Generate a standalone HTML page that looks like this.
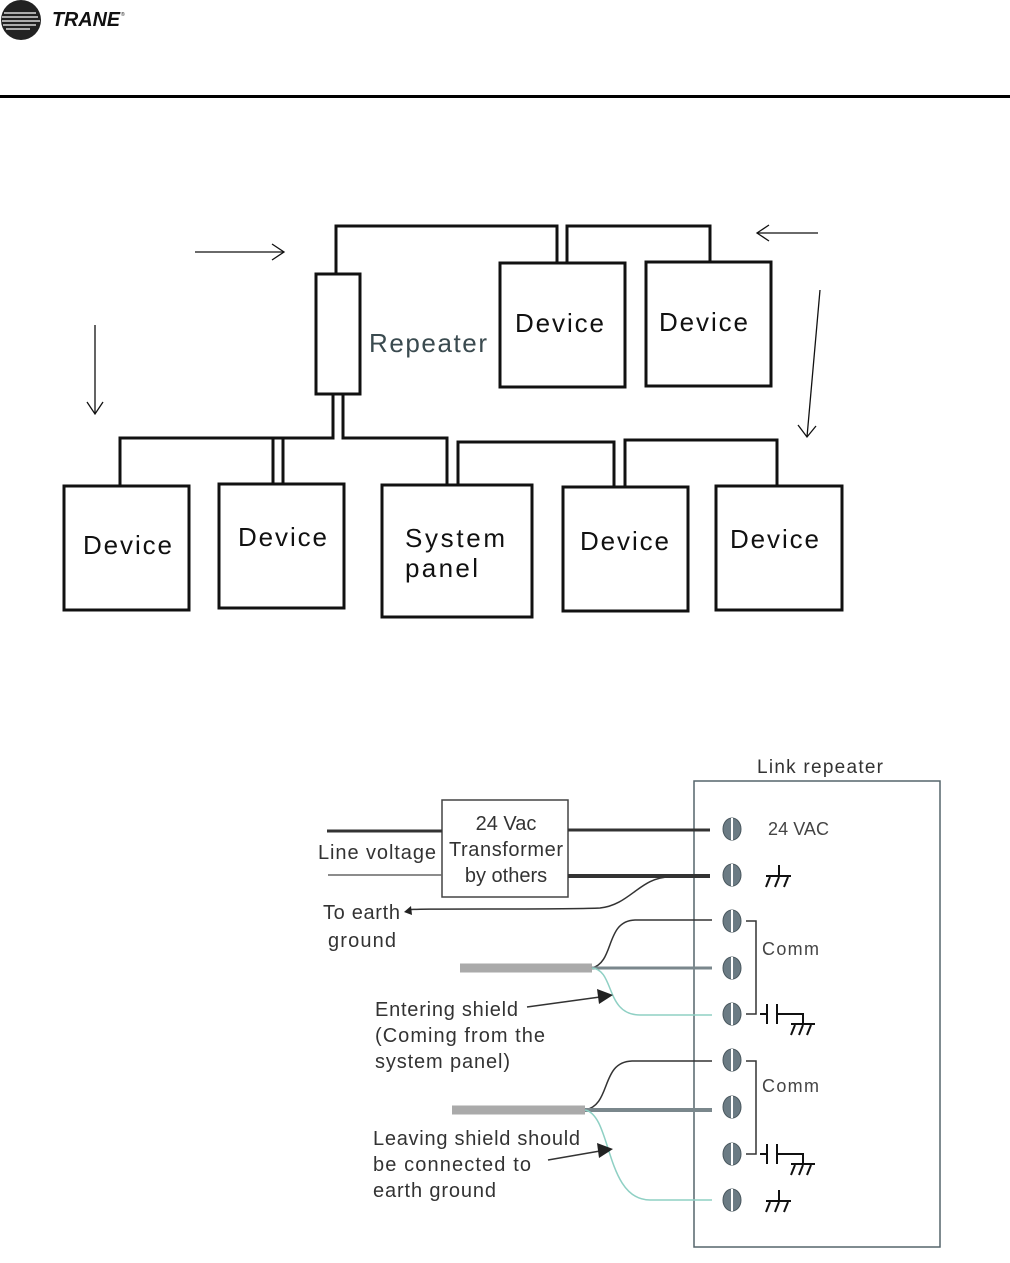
<!DOCTYPE html>
<html><head><meta charset="utf-8"><style>
html,body{margin:0;padding:0;background:#fff;}
svg{display:block;}
text{font-family:"Liberation Sans",sans-serif;}
</style></head><body>
<svg width="1010" height="1263" viewBox="0 0 1010 1263" xmlns="http://www.w3.org/2000/svg">
<circle cx="21" cy="20" r="20" fill="#222"/>
<g stroke="#fff" stroke-width="1.3">
<line x1="4" y1="13" x2="36" y2="13"/><line x1="2" y1="17" x2="38" y2="17"/><line x1="2" y1="21" x2="40" y2="21"/><line x1="3" y1="25" x2="36" y2="25"/><line x1="6" y1="29" x2="30" y2="29"/>
</g>
<text x="52" y="26" font-size="20" font-weight="bold" font-style="italic" fill="#111" textLength="68" lengthAdjust="spacingAndGlyphs">TRANE</text>
<text x="121" y="16" font-size="5" fill="#111">®</text>
<rect x="0" y="95" width="1010" height="3" fill="#000"/>

<g fill="none" stroke="#111" stroke-width="3">
<rect x="316" y="274" width="44" height="120"/>
<polyline points="336,274 336,226 557,226 557,263"/>
<polyline points="567,263 567,226 710,226 710,262"/>
<rect x="500" y="263" width="125" height="124"/>
<rect x="646" y="262" width="125" height="124"/>
<polyline points="333,394 333,438 120,438 120,486"/>
<polyline points="283,438 273,438 273,484"/>
<polyline points="283,438 283,484"/>
<polyline points="343,394 343,438 447,438 447,485"/>
<polyline points="458,485 458,442 614,442 614,487"/>
<polyline points="625,487 625,440 777,440 777,486"/>
<rect x="64" y="486" width="125" height="124"/>
<rect x="219" y="484" width="125" height="124"/>
<rect x="382" y="485" width="150" height="132"/>
<rect x="563" y="487" width="125" height="124"/>
<rect x="716" y="486" width="126" height="124"/>
</g>
<g font-size="26" fill="#111">
<text x="515" y="332" textLength="89">Device</text>
<text x="659" y="331" textLength="89">Device</text>
<text x="83" y="554" textLength="89">Device</text>
<text x="238" y="546" textLength="89">Device</text>
<text x="405" y="547" textLength="100">System</text>
<text x="405" y="577" textLength="73">panel</text>
<text x="580" y="550" textLength="89">Device</text>
<text x="730" y="548" textLength="89">Device</text>
</g>
<text x="369" y="352" font-size="26" fill="#3a4a4f" textLength="118">Repeater</text>
<g fill="none" stroke="#111" stroke-width="1.3">
<line x1="195" y1="252" x2="284" y2="252"/><polyline points="272,244 284,252 272,260"/>
<line x1="95" y1="325" x2="95" y2="414"/><polyline points="87,402 95,414 103,402"/>
<line x1="818" y1="233" x2="757" y2="233"/><polyline points="769,225 757,233 769,241"/>
<line x1="820" y1="290" x2="807" y2="437"/><polyline points="798,425 807,437 816,426"/>
</g>

<text x="757" y="773" font-size="19" fill="#333" textLength="126">Link repeater</text>
<rect x="694" y="781" width="246" height="466" fill="none" stroke="#55656b" stroke-width="1.5"/>
<rect x="442" y="800" width="126" height="97" fill="none" stroke="#444" stroke-width="1.5"/>
<g font-size="20" fill="#333" text-anchor="middle">
<text x="506" y="830">24 Vac</text>
<text x="506" y="856" textLength="114">Transformer</text>
<text x="506" y="882">by others</text>
</g>
<g font-size="20" fill="#333">
<text x="318" y="859" textLength="118">Line voltage</text>
<text x="323" y="919" textLength="77">To earth</text>
<text x="328" y="947" textLength="68">ground</text>
<text x="375" y="1016" textLength="143">Entering shield</text>
<text x="375" y="1042" textLength="170">(Coming from the</text>
<text x="375" y="1068" textLength="135">system panel)</text>
<text x="373" y="1145" textLength="207">Leaving shield should</text>
<text x="373" y="1171" textLength="158">be connected to</text>
<text x="373" y="1197" textLength="123">earth ground</text>
</g>
<g font-size="18" fill="#444">
<text x="768" y="835" textLength="61">24 VAC</text>
<text x="762" y="955" textLength="57">Comm</text>
<text x="762" y="1092" textLength="57">Comm</text>
</g>
<g fill="none">
<line x1="327" y1="831" x2="442" y2="831" stroke="#333" stroke-width="3"/>
<line x1="328" y1="875" x2="442" y2="875" stroke="#666" stroke-width="1.5"/>
<line x1="568" y1="830" x2="710" y2="830" stroke="#333" stroke-width="3"/>
<line x1="568" y1="876" x2="710" y2="876" stroke="#333" stroke-width="4"/>
<path d="M410,910 C400,908 560,910 600,908 C630,905 640,877 670,877" stroke="#333" stroke-width="1.5"/>
<line x1="460" y1="968" x2="592" y2="968" stroke="#aaa" stroke-width="9"/>
<path d="M592,968 C615,962 605,921 635,920 L712,920" stroke="#333" stroke-width="1.5"/>
<line x1="592" y1="968" x2="712" y2="968" stroke="#7a878c" stroke-width="3"/>
<path d="M592,968 C615,970 605,1015 640,1015 L712,1015" stroke="#8fd0c4" stroke-width="1.5"/>
<line x1="452" y1="1110" x2="585" y2="1110" stroke="#aaa" stroke-width="9"/>
<path d="M585,1110 C612,1105 600,1062 632,1061 L712,1061" stroke="#333" stroke-width="1.5"/>
<line x1="585" y1="1110" x2="712" y2="1110" stroke="#7a878c" stroke-width="4"/>
<path d="M585,1110 C612,1115 605,1200 650,1200 L712,1200" stroke="#8fd0c4" stroke-width="1.5"/>
<line x1="527" y1="1007" x2="600" y2="997" stroke="#333" stroke-width="1.5"/>
<line x1="548" y1="1160" x2="600" y2="1151" stroke="#333" stroke-width="1.5"/>
</g>
<polygon points="613,995 597,989 599,1004" fill="#222"/>
<polygon points="613,1149 597,1143 599,1158" fill="#222"/>
<polygon points="404,912 411,906 412,915" fill="#222"/>
<g>
<g id="s"><ellipse cx="732" cy="829" rx="9" ry="11" fill="#6b7b84" stroke="#4a585f"/><line x1="732" y1="818" x2="732" y2="840" stroke="#fff" stroke-width="2"/></g>
<use href="#s" y="46"/><use href="#s" y="92"/><use href="#s" y="139"/><use href="#s" y="185"/>
<use href="#s" y="231"/><use href="#s" y="278"/><use href="#s" y="325"/><use href="#s" y="371"/>
</g>
<g fill="none" stroke="#333" stroke-width="1.5">
<polyline points="746,921 756,921 756,1014 746,1014"/>
<polyline points="746,1061 756,1061 756,1154 746,1154"/>
</g>
<g fill="none" stroke="#111" stroke-width="2">
<g id="g1"><line x1="779" y1="865" x2="779" y2="876"/><line x1="766" y1="876" x2="791" y2="876"/><line x1="770" y1="877" x2="766" y2="887"/><line x1="779" y1="877" x2="775" y2="887"/><line x1="788" y1="877" x2="784" y2="887"/></g>
<use href="#g1" y="325"/>
<g id="c1"><line x1="760" y1="1014" x2="767" y2="1014"/><line x1="767" y1="1004" x2="767" y2="1024"/><line x1="777" y1="1004" x2="777" y2="1024"/><polyline points="777,1014 803,1014 803,1024"/><line x1="791" y1="1024" x2="815" y2="1024"/><line x1="795" y1="1025" x2="791" y2="1035"/><line x1="803" y1="1025" x2="799" y2="1035"/><line x1="811" y1="1025" x2="807" y2="1035"/></g>
<use href="#c1" y="140"/>
</g>
</svg>
</body></html>
